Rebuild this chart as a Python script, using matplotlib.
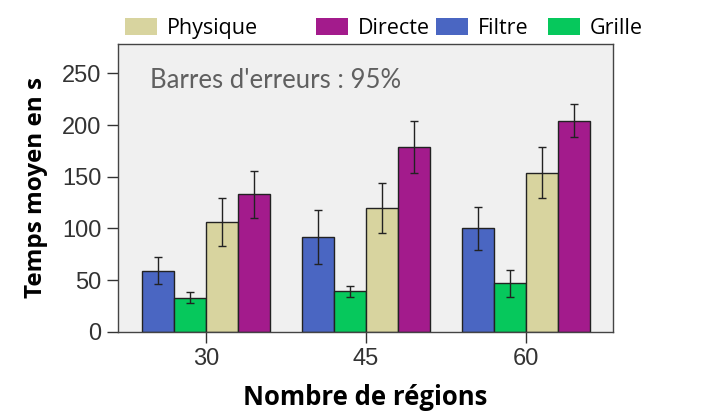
import numpy as np
import matplotlib.pyplot as plt
from matplotlib.patches import Patch

# groupes sur l'axe x
regions = ["30", "45", "60"]

# temps moyens (s) par méthode
filtre = [59, 92, 100]
grille = [33, 39, 47]
physique = [106, 120, 154]
directe = [133, 179, 204]

# demi-largeur des barres d'erreur (IC 95%)
err_filtre = [13, 26, 21]
err_grille = [5, 5, 13]
err_physique = [23, 24, 25]
err_directe = [23, 25, 16]

c_filtre = "#4a66c2"
c_grille = "#06c85c"
c_physique = "#d8d49f"
c_directe = "#a31b8c"

fig = plt.figure(figsize=(7.14, 4.13), dpi=100)
ax = fig.add_axes([0.1657, 0.1969, 0.6928, 0.6966])
ax.set_facecolor("#f0f0f0")

x = np.arange(len(regions))
w = 0.2
series = [
    ("Filtre", filtre, err_filtre, c_filtre),
    ("Grille", grille, err_grille, c_grille),
    ("Physique", physique, err_physique, c_physique),
    ("Directe", directe, err_directe, c_directe),
]
for i, (nom, vals, errs, col) in enumerate(series):
    pos = x + (i - 1.5) * w
    ax.bar(pos, vals, w, color=col, edgecolor="#222222", linewidth=1.0, zorder=2)
    ax.errorbar(pos, vals, yerr=errs, fmt="none", ecolor="#222222",
                elinewidth=1.0, capsize=3, capthick=1.0, zorder=3)

ax.set_xlim(-0.548, 2.544)
ax.set_ylim(0, 278.5)
ax.set_xticks(x)
ax.set_xticklabels(regions)
ax.set_yticks([0, 50, 100, 150, 200, 250])
ax.tick_params(axis="both", direction="out", length=8, width=1, color="#333333",
               labelsize=17, labelcolor="#333333", pad=4)
for lab in ax.get_xticklabels() + ax.get_yticklabels():
    lab.set_fontfamily("Liberation Sans")
for s in ax.spines.values():
    s.set_color("#444444")
    s.set_linewidth(1.0)

ax.set_ylabel("Temps moyen en s", fontsize=17.5, fontweight="bold",
              fontfamily="Open Sans", labelpad=10)
ax.set_xlabel("Nombre de régions", fontsize=18.5, fontweight="bold",
              fontfamily="Open Sans", labelpad=10)

ax.text(0.065, 0.872, "Barres d'erreurs : 95%", transform=ax.transAxes,
        fontsize=18.5, fontfamily="Lato", fontweight="normal", color="#606060",
        va="center", ha="left")

# légende en haut, éléments placés un par un
leg_items = [("Physique", c_physique, 0.175), ("Directe", c_directe, 0.4426),
             ("Filtre", c_filtre, 0.6106), ("Grille", c_grille, 0.7675)]
for nom, col, xpos in leg_items:
    fig.legend(handles=[Patch(facecolor=col, edgecolor="none")], labels=[nom],
               loc="center left", bbox_to_anchor=(xpos, 0.932), frameon=False,
               handlelength=1.5, handleheight=0.85, handletextpad=0.45,
               borderaxespad=0, borderpad=0,
               prop={"family": "Open Sans", "size": 15.5})

fig.savefig("out.png", dpi=100)
